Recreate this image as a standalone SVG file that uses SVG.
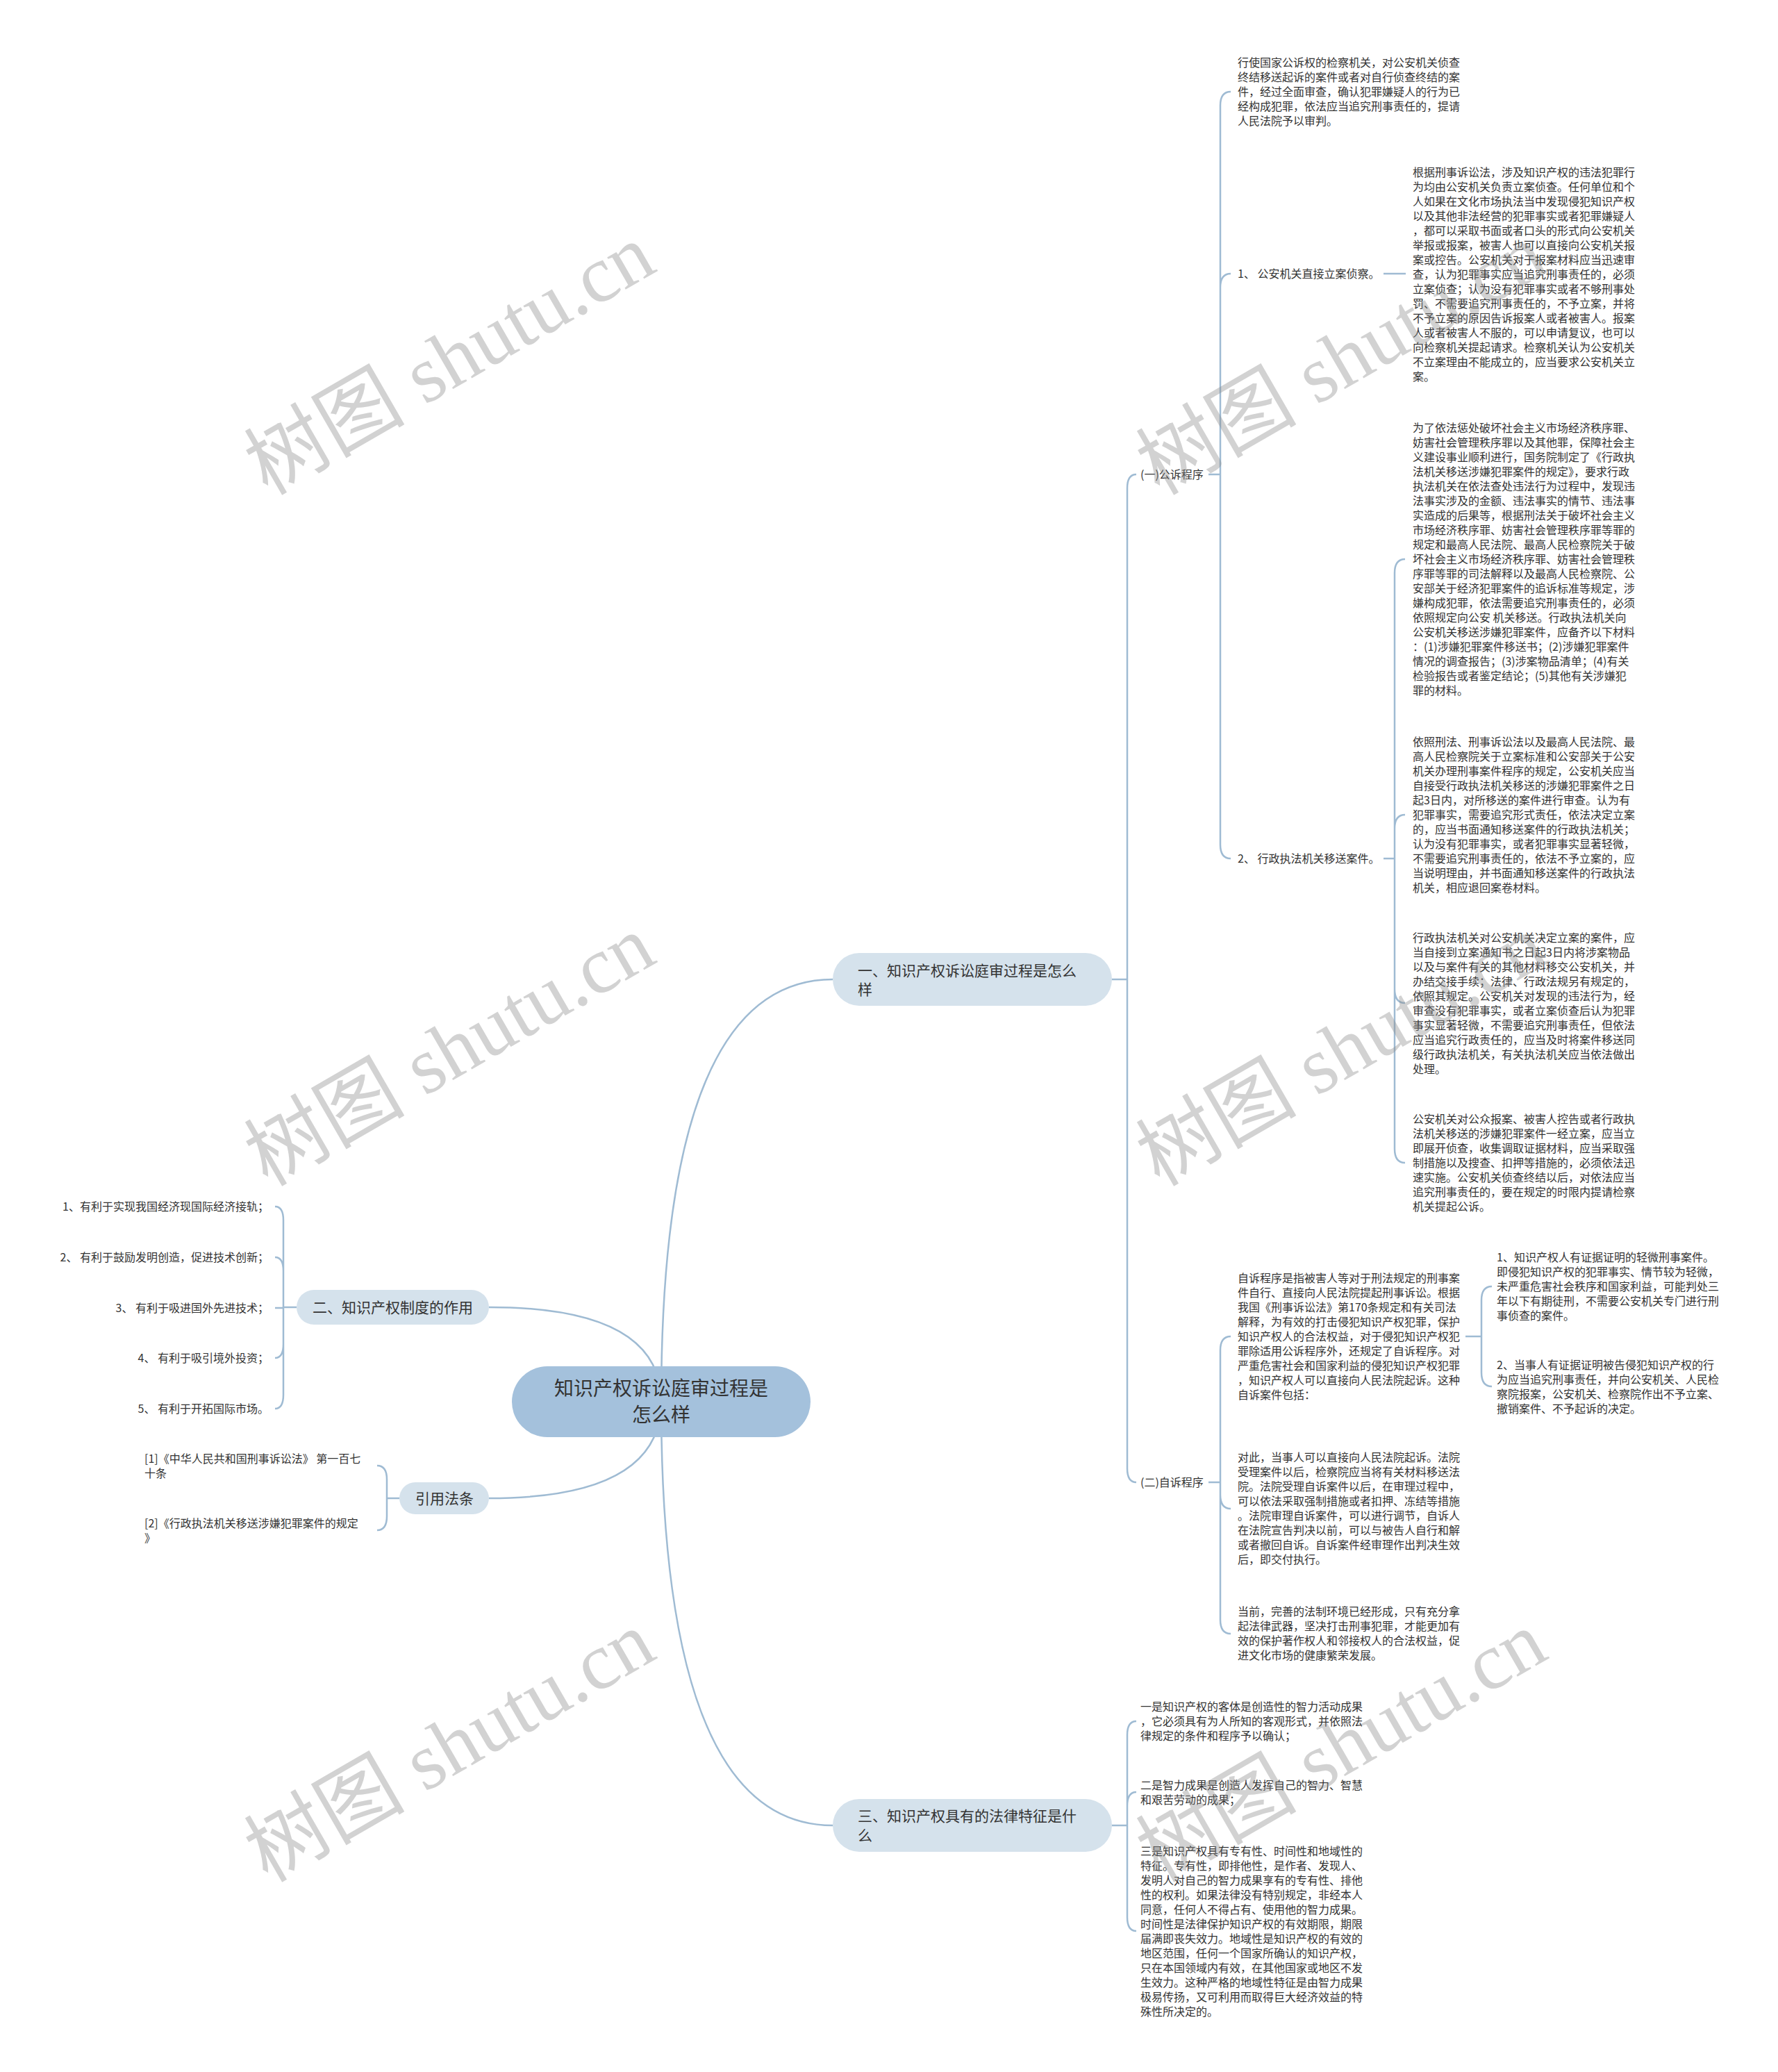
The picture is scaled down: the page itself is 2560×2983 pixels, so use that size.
<svg xmlns="http://www.w3.org/2000/svg" width="2560" height="2983" viewBox="0 0 2560 2983">
<style>
.t{font-family:"Noto Sans CJK SC","Noto Sans",sans-serif;font-size:16px;fill:#333}
.b{font-family:"Noto Sans CJK SC","Noto Sans",sans-serif;font-size:21px;fill:#333}
.r{font-family:"Noto Sans CJK SC","Noto Sans",sans-serif;font-size:28px;fill:#333}
.c{fill:none;stroke:#9fbbd3;stroke-width:2.5}
.pr{fill:#a4c1dc}
.pb{fill:#d5e2ec}
.wm{font-family:"Liberation Serif","Noto Sans CJK SC",serif;font-size:116px;fill:#888;fill-opacity:0.38}
</style>
<rect x="0" y="0" width="2560" height="2983" fill="#ffffff"/>
<g id="connectors">
<path class="c" d="M952,2018 Q952,1410 1199,1410"/>
<path class="c" d="M952,2018 Q952,1882 704,1882"/>
<path class="c" d="M952,2018 Q952,2157 704,2157"/>
<path class="c" d="M952,2018 Q952,2628 1199,2628"/>
<path class="c" d="M1601,1410 H1623 M1623,1410 V703 Q1623,683 1636,683 M1623,1410 V2114 Q1623,2134 1636,2134"/>
<path class="c" d="M1740,683 H1757 M1757,683 V152 Q1757,132 1772,132 M1757,683 V414 Q1757,394 1772,394 M1757,683 V1216 Q1757,1236 1772,1236"/>
<path class="c" d="M1992,394 H2024"/>
<path class="c" d="M1992,1236 H2008 M2008,1236 V825 Q2008,805 2023,805 M2008,1236 V1193 Q2008,1173 2023,1173 M2008,1236 V1424 Q2008,1444 2023,1444 M2008,1236 V1654 Q2008,1674 2023,1674"/>
<path class="c" d="M1740,2134 H1757 M1757,2134 V1944 Q1757,1924 1772,1924 M1757,2134 V2152 Q1757,2172 1772,2172 M1757,2134 V2332 Q1757,2352 1772,2352"/>
<path class="c" d="M2110,1924 H2133 M2133,1924 V1872 Q2133,1852 2148,1852 M2133,1924 V1976 Q2133,1996 2148,1996"/>
<path class="c" d="M1601,2628 H1623 M1623,2628 V2498 Q1623,2478 1636,2478 M1623,2628 V2600 Q1623,2580 1636,2580 M1623,2628 V2760 Q1623,2780 1636,2780"/>
<path class="c" d="M427,1882 H408 M408,1882 V1757 Q408,1737 396,1737 M408,1882 V1830 Q408,1810 396,1810 M408,1882 V1883 H396 M408,1882 V1935 Q408,1955 396,1955 M408,1882 V2008 Q408,2028 396,2028"/>
<path class="c" d="M575,2157 H557 M557,2157 V2130 Q557,2110 543,2110 M557,2157 V2183 Q557,2203 543,2203"/>
</g>
<g id="root">
<rect class="pr" x="737" y="1967" width="430" height="102" rx="51"/>
<text class="r" text-anchor="middle"><tspan x="952" y="2009">知识产权诉讼庭审过程是</tspan><tspan x="952" y="2047">怎么样</tspan></text>
</g>
<g id="branch-1">
<rect class="pb" x="1199" y="1372" width="402" height="76" rx="38"/>
<text class="b"><tspan x="1235" y="1405">一、知识产权诉讼庭审过程是怎么</tspan><tspan x="1235" y="1432">样</tspan></text>
</g>
<g id="branch-2">
<rect class="pb" x="427" y="1857" width="277" height="50" rx="25"/>
<text class="b" x="450" y="1890">二、知识产权制度的作用</text>
</g>
<g id="branch-3">
<rect class="pb" x="1199" y="2590" width="402" height="76" rx="38"/>
<text class="b"><tspan x="1235" y="2622">三、知识产权具有的法律特征是什</tspan><tspan x="1235" y="2650">么</tspan></text>
</g>
<g id="branch-refs">
<rect class="pb" x="575" y="2134" width="129" height="46" rx="23"/>
<text class="b" x="598" y="2165">引用法条</text>
</g>
<g id="gongsu">
<text class="t" x="1642" y="689">(一)公诉程序</text>
</g>
<g id="zisu">
<text class="t" x="1642" y="2140">(二)自诉程序</text>
</g>
<g id="leaf-a">
<text class="t"><tspan x="1782" y="96">行使国家公诉权的检察机关，对公安机关侦查</tspan><tspan x="1782" dy="21">终结移送起诉的案件或者对自行侦查终结的案</tspan><tspan x="1782" dy="21">件，经过全面审查，确认犯罪嫌疑人的行为已</tspan><tspan x="1782" dy="21">经构成犯罪，依法应当追究刑事责任的，提请</tspan><tspan x="1782" dy="21">人民法院予以审判。</tspan></text>
</g>
<g id="item-1">
<text class="t" x="1782" y="400">1、 公安机关直接立案侦察。</text>
</g>
<g id="leaf-b">
<text class="t"><tspan x="2034" y="254">根据刑事诉讼法，涉及知识产权的违法犯罪行</tspan><tspan x="2034" dy="21">为均由公安机关负责立案侦查。任何单位和个</tspan><tspan x="2034" dy="21">人如果在文化市场执法当中发现侵犯知识产权</tspan><tspan x="2034" dy="21">以及其他非法经营的犯罪事实或者犯罪嫌疑人</tspan><tspan x="2034" dy="21">，都可以采取书面或者口头的形式向公安机关</tspan><tspan x="2034" dy="21">举报或报案，被害人也可以直接向公安机关报</tspan><tspan x="2034" dy="21">案或控告。公安机关对于报案材料应当迅速审</tspan><tspan x="2034" dy="21">查，认为犯罪事实应当追究刑事责任的，必须</tspan><tspan x="2034" dy="21">立案侦查；认为没有犯罪事实或者不够刑事处</tspan><tspan x="2034" dy="21">罚、不需要追究刑事责任的，不予立案，并将</tspan><tspan x="2034" dy="21">不予立案的原因告诉报案人或者被害人。报案</tspan><tspan x="2034" dy="21">人或者被害人不服的，可以申请复议，也可以</tspan><tspan x="2034" dy="21">向检察机关提起请求。检察机关认为公安机关</tspan><tspan x="2034" dy="21">不立案理由不能成立的，应当要求公安机关立</tspan><tspan x="2034" dy="21">案。</tspan></text>
</g>
<g id="item-2">
<text class="t" x="1782" y="1242">2、 行政执法机关移送案件。</text>
</g>
<g id="leaf-c">
<text class="t"><tspan x="2034" y="622">为了依法惩处破坏社会主义市场经济秩序罪、</tspan><tspan x="2034" dy="21">妨害社会管理秩序罪以及其他罪，保障社会主</tspan><tspan x="2034" dy="21">义建设事业顺利进行，国务院制定了《行政执</tspan><tspan x="2034" dy="21">法机关移送涉嫌犯罪案件的规定》，要求行政</tspan><tspan x="2034" dy="21">执法机关在依法查处违法行为过程中，发现违</tspan><tspan x="2034" dy="21">法事实涉及的金额、违法事实的情节、违法事</tspan><tspan x="2034" dy="21">实造成的后果等，根据刑法关于破坏社会主义</tspan><tspan x="2034" dy="21">市场经济秩序罪、妨害社会管理秩序罪等罪的</tspan><tspan x="2034" dy="21">规定和最高人民法院、最高人民检察院关于破</tspan><tspan x="2034" dy="21">坏社会主义市场经济秩序罪、妨害社会管理秩</tspan><tspan x="2034" dy="21">序罪等罪的司法解释以及最高人民检察院、公</tspan><tspan x="2034" dy="21">安部关于经济犯罪案件的追诉标准等规定，涉</tspan><tspan x="2034" dy="21">嫌构成犯罪，依法需要追究刑事责任的，必须</tspan><tspan x="2034" dy="21">依照规定向公安 机关移送。行政执法机关向</tspan><tspan x="2034" dy="21">公安机关移送涉嫌犯罪案件，应备齐以下材料</tspan><tspan x="2034" dy="21">：(1)涉嫌犯罪案件移送书；(2)涉嫌犯罪案件</tspan><tspan x="2034" dy="21">情况的调查报告；(3)涉案物品清单；(4)有关</tspan><tspan x="2034" dy="21">检验报告或者鉴定结论；(5)其他有关涉嫌犯</tspan><tspan x="2034" dy="21">罪的材料。</tspan></text>
</g>
<g id="leaf-d">
<text class="t"><tspan x="2034" y="1074">依照刑法、刑事诉讼法以及最高人民法院、最</tspan><tspan x="2034" dy="21">高人民检察院关于立案标准和公安部关于公安</tspan><tspan x="2034" dy="21">机关办理刑事案件程序的规定，公安机关应当</tspan><tspan x="2034" dy="21">自接受行政执法机关移送的涉嫌犯罪案件之日</tspan><tspan x="2034" dy="21">起3日内，对所移送的案件进行审查。认为有</tspan><tspan x="2034" dy="21">犯罪事实，需要追究形式责任，依法决定立案</tspan><tspan x="2034" dy="21">的，应当书面通知移送案件的行政执法机关；</tspan><tspan x="2034" dy="21">认为没有犯罪事实，或者犯罪事实显著轻微，</tspan><tspan x="2034" dy="21">不需要追究刑事责任的，依法不予立案的，应</tspan><tspan x="2034" dy="21">当说明理由，并书面通知移送案件的行政执法</tspan><tspan x="2034" dy="21">机关，相应退回案卷材料。</tspan></text>
</g>
<g id="leaf-e">
<text class="t"><tspan x="2034" y="1356">行政执法机关对公安机关决定立案的案件，应</tspan><tspan x="2034" dy="21">当自接到立案通知书之日起3日内将涉案物品</tspan><tspan x="2034" dy="21">以及与案件有关的其他材料移交公安机关，并</tspan><tspan x="2034" dy="21">办结交接手续；法律、行政法规另有规定的，</tspan><tspan x="2034" dy="21">依照其规定。公安机关对发现的违法行为，经</tspan><tspan x="2034" dy="21">审查没有犯罪事实，或者立案侦查后认为犯罪</tspan><tspan x="2034" dy="21">事实显著轻微，不需要追究刑事责任，但依法</tspan><tspan x="2034" dy="21">应当追究行政责任的，应当及时将案件移送同</tspan><tspan x="2034" dy="21">级行政执法机关，有关执法机关应当依法做出</tspan><tspan x="2034" dy="21">处理。</tspan></text>
</g>
<g id="leaf-f">
<text class="t"><tspan x="2034" y="1617">公安机关对公众报案、被害人控告或者行政执</tspan><tspan x="2034" dy="21">法机关移送的涉嫌犯罪案件一经立案，应当立</tspan><tspan x="2034" dy="21">即展开侦查，收集调取证据材料，应当采取强</tspan><tspan x="2034" dy="21">制措施以及搜查、扣押等措施的，必须依法迅</tspan><tspan x="2034" dy="21">速实施。公安机关侦查终结以后，对依法应当</tspan><tspan x="2034" dy="21">追究刑事责任的，要在规定的时限内提请检察</tspan><tspan x="2034" dy="21">机关提起公诉。</tspan></text>
</g>
<g id="leaf-g">
<text class="t"><tspan x="1782" y="1846">自诉程序是指被害人等对于刑法规定的刑事案</tspan><tspan x="1782" dy="21">件自行、直接向人民法院提起刑事诉讼。根据</tspan><tspan x="1782" dy="21">我国《刑事诉讼法》第170条规定和有关司法</tspan><tspan x="1782" dy="21">解释，为有效的打击侵犯知识产权犯罪，保护</tspan><tspan x="1782" dy="21">知识产权人的合法权益，对于侵犯知识产权犯</tspan><tspan x="1782" dy="21">罪除适用公诉程序外，还规定了自诉程序。对</tspan><tspan x="1782" dy="21">严重危害社会和国家利益的侵犯知识产权犯罪</tspan><tspan x="1782" dy="21">，知识产权人可以直接向人民法院起诉。这种</tspan><tspan x="1782" dy="21">自诉案件包括：</tspan></text>
</g>
<g id="leaf-j">
<text class="t"><tspan x="2155" y="1816">1、知识产权人有证据证明的轻微刑事案件。</tspan><tspan x="2155" dy="21">即侵犯知识产权的犯罪事实、情节较为轻微，</tspan><tspan x="2155" dy="21">未严重危害社会秩序和国家利益，可能判处三</tspan><tspan x="2155" dy="21">年以下有期徒刑，不需要公安机关专门进行刑</tspan><tspan x="2155" dy="21">事侦查的案件。</tspan></text>
</g>
<g id="leaf-k">
<text class="t"><tspan x="2155" y="1971">2、当事人有证据证明被告侵犯知识产权的行</tspan><tspan x="2155" dy="21">为应当追究刑事责任，并向公安机关、人民检</tspan><tspan x="2155" dy="21">察院报案，公安机关、检察院作出不予立案、</tspan><tspan x="2155" dy="21">撤销案件、不予起诉的决定。</tspan></text>
</g>
<g id="leaf-h">
<text class="t"><tspan x="1782" y="2104">对此，当事人可以直接向人民法院起诉。法院</tspan><tspan x="1782" dy="21">受理案件以后，检察院应当将有关材料移送法</tspan><tspan x="1782" dy="21">院。法院受理自诉案件以后，在审理过程中，</tspan><tspan x="1782" dy="21">可以依法采取强制措施或者扣押、冻结等措施</tspan><tspan x="1782" dy="21">。法院审理自诉案件，可以进行调节，自诉人</tspan><tspan x="1782" dy="21">在法院宣告判决以前，可以与被告人自行和解</tspan><tspan x="1782" dy="21">或者撤回自诉。自诉案件经审理作出判决生效</tspan><tspan x="1782" dy="21">后，即交付执行。</tspan></text>
</g>
<g id="leaf-i">
<text class="t"><tspan x="1782" y="2326">当前，完善的法制环境已经形成，只有充分拿</tspan><tspan x="1782" dy="21">起法律武器，坚决打击刑事犯罪，才能更加有</tspan><tspan x="1782" dy="21">效的保护著作权人和邻接权人的合法权益，促</tspan><tspan x="1782" dy="21">进文化市场的健康繁荣发展。</tspan></text>
</g>
<g id="leaf-l">
<text class="t"><tspan x="1642" y="2463">一是知识产权的客体是创造性的智力活动成果</tspan><tspan x="1642" dy="21">，它必须具有为人所知的客观形式，并依照法</tspan><tspan x="1642" dy="21">律规定的条件和程序予以确认；</tspan></text>
</g>
<g id="leaf-m">
<text class="t"><tspan x="1642" y="2576">二是智力成果是创造人发挥自己的智力、智慧</tspan><tspan x="1642" dy="21">和艰苦劳动的成果；</tspan></text>
</g>
<g id="leaf-n">
<text class="t"><tspan x="1642" y="2671">三是知识产权具有专有性、时间性和地域性的</tspan><tspan x="1642" dy="21">特征。专有性，即排他性，是作者、发现人、</tspan><tspan x="1642" dy="21">发明人对自己的智力成果享有的专有性、排他</tspan><tspan x="1642" dy="21">性的权利。如果法律没有特别规定，非经本人</tspan><tspan x="1642" dy="21">同意，任何人不得占有、使用他的智力成果。</tspan><tspan x="1642" dy="21">时间性是法律保护知识产权的有效期限，期限</tspan><tspan x="1642" dy="21">届满即丧失效力。地域性是知识产权的有效的</tspan><tspan x="1642" dy="21">地区范围，任何一个国家所确认的知识产权，</tspan><tspan x="1642" dy="21">只在本国领域内有效，在其他国家或地区不发</tspan><tspan x="1642" dy="21">生效力。这种严格的地域性特征是由智力成果</tspan><tspan x="1642" dy="21">极易传扬，又可利用而取得巨大经济效益的特</tspan><tspan x="1642" dy="21">殊性所决定的。</tspan></text>
</g>
<g id="left-items" text-anchor="end">
<text class="t" x="387" y="1743">1、有利于实现我国经济现国际经济接轨；</text>
<text class="t" x="387" y="1816">2、 有利于鼓励发明创造，促进技术创新；</text>
<text class="t" x="387" y="1889">3、 有利于吸进国外先进技术；</text>
<text class="t" x="387" y="1961">4、 有利于吸引境外投资；</text>
<text class="t" x="387" y="2034">5、 有利于开拓国际市场。</text>
</g>
<g id="ref-1">
<text class="t"><tspan x="208" y="2106">[1]《中华人民共和国刑事诉讼法》 第一百七</tspan><tspan x="208" dy="21">十条</tspan></text>
</g>
<g id="ref-2">
<text class="t"><tspan x="208" y="2199">[2]《行政执法机关移送涉嫌犯罪案件的规定</tspan><tspan x="208" dy="21">》</tspan></text>
</g>
<g id="watermarks" class="wm" text-anchor="middle">
<text x="647" y="557" transform="rotate(-30 647 517)">树图 shutu.cn</text>
<text x="647" y="1552" transform="rotate(-30 647 1512)">树图 shutu.cn</text>
<text x="647" y="2554" transform="rotate(-30 647 2514)">树图 shutu.cn</text>
<text x="1931" y="557" transform="rotate(-30 1931 517)">树图 shutu.cn</text>
<text x="1931" y="1552" transform="rotate(-30 1931 1512)">树图 shutu.cn</text>
<text x="1931" y="2554" transform="rotate(-30 1931 2514)">树图 shutu.cn</text>
</g>
</svg>
